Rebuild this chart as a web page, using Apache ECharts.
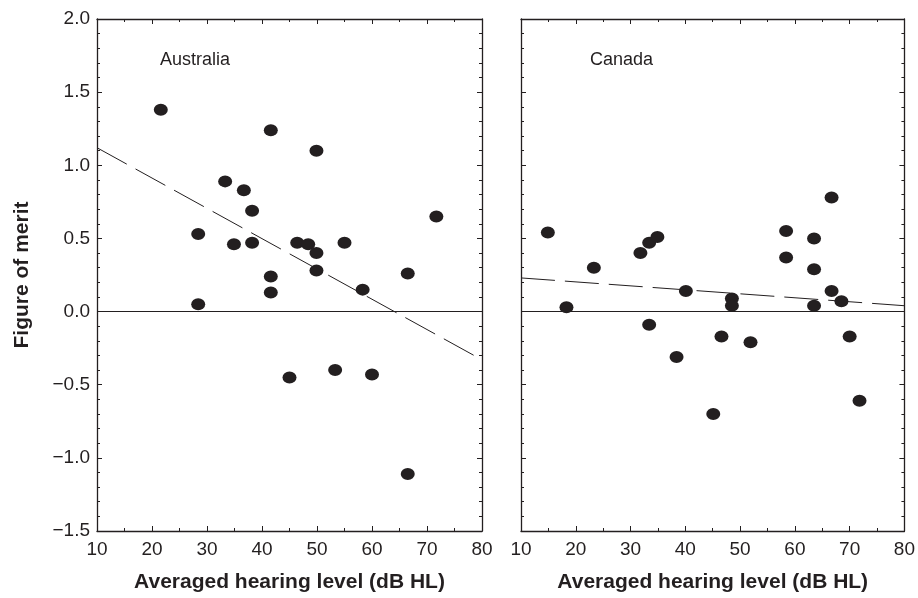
<!DOCTYPE html>
<html>
<head>
<meta charset="utf-8">
<script src="https://cdn.jsdelivr.net/npm/echarts@6/dist/echarts.min.js"></script>
<style>
html, body { margin: 0; padding: 0; background: #fff; }
#chart { width: 918px; height: 598px; }
</style>
</head>
<body>
<div id="chart"></div>
<script>
// data
var australia = [
    [21.6, 1.38], [41.6, 1.24], [49.9, 1.10], [33.3, 0.89], [36.7, 0.83],
    [38.2, 0.69], [71.7, 0.65], [28.4, 0.53], [34.9, 0.46], [38.2, 0.47],
    [46.4, 0.47], [48.4, 0.46], [55.0, 0.47], [49.9, 0.40], [49.9, 0.28],
    [41.6, 0.24], [66.5, 0.26], [41.6, 0.13], [58.3, 0.15], [28.4, 0.05],
    [45.0, -0.45], [53.3, -0.40], [60.0, -0.43], [66.5, -1.11]
];
var canada = [
    [14.9, 0.54], [18.3, 0.03], [23.3, 0.30], [31.8, 0.40], [33.4, 0.47],
    [34.9, 0.51], [33.4, -0.09], [38.4, -0.31], [40.1, 0.14], [45.1, -0.70],
    [46.6, -0.17], [48.5, 0.09], [48.5, 0.04], [51.9, -0.21], [58.4, 0.55],
    [58.4, 0.37], [63.5, 0.50], [63.5, 0.29], [63.5, 0.04], [66.7, 0.78],
    [66.7, 0.14], [68.5, 0.07], [70.0, -0.17], [71.8, -0.61]
];
// regression lines (end points)
var australiaFit = [[10, 1.12], [80, -0.33]];
var canadaFit = [[10, 0.23], [80, 0.04]];

var xTicks = [10, 20, 30, 40, 50, 60, 70, 80];
var yTicks = [-1.5, -1.0, -0.5, 0.0, 0.5, 1.0, 1.5, 2.0];
var yTickLabels = ['\u22121.5', '\u22121.0', '\u22120.5', '0.0', '0.5', '1.0', '1.5', '2.0'];
var panelNames = ['Australia', 'Canada'];
var xTitle = 'Averaged hearing level (dB HL)';
var yTitle = 'Figure of merit';

var ink = '#231f20';
var font = 'Liberation Sans, Arial, sans-serif';

function xAxisCfg(grid, pos, labels) {
    return {
        type: 'value', gridIndex: grid, position: pos,
        min: xTicks[0], max: xTicks[xTicks.length - 1], interval: 10,
        axisLine: { onZero: false, lineStyle: { color: ink, width: 1.3 } },
        axisTick: { inside: true, length: 5, lineStyle: { color: ink } },
        minorTick: { show: true, splitNumber: 2, length: 3, lineStyle: { color: ink } },
        splitLine: { show: false },
        axisLabel: { show: labels, color: ink, fontSize: 19, fontFamily: font, margin: 9,
            showMinLabel: true, showMaxLabel: true },
        name: labels ? xTitle : '',
        nameLocation: 'middle', nameGap: 41,
        nameTextStyle: { color: ink, fontSize: 21, fontWeight: 'bold', fontFamily: font }
    };
}

function yAxisCfg(grid, pos, labels, withName) {
    return {
        type: 'value', gridIndex: grid, position: pos,
        min: yTicks[0], max: yTicks[yTicks.length - 1], interval: 0.5,
        axisLine: { onZero: false, lineStyle: { color: ink, width: 1.3 } },
        axisTick: { inside: true, length: 5, lineStyle: { color: ink } },
        minorTick: { show: true, splitNumber: 5, length: 3, lineStyle: { color: ink } },
        splitLine: { show: false },
        axisLabel: {
            show: labels, color: ink, fontSize: 19, fontFamily: font, margin: 7,
            formatter: function (v) {
                var i = yTicks.indexOf(Math.round(v * 10) / 10);
                return i >= 0 ? yTickLabels[i] : '';
            }
        },
        name: withName ? yTitle : '',
        nameLocation: 'middle', nameGap: 64, nameRotate: 90,
        nameTextStyle: { color: ink, fontSize: 21, fontWeight: 'bold', fontFamily: font }
    };
}

function scatterSeries(i, data) {
    return {
        type: 'scatter', xAxisIndex: i * 2, yAxisIndex: i * 2, data: data,
        symbol: 'circle', symbolSize: [14, 12],
        itemStyle: { color: ink, opacity: 1 },
        z: 5,
        markLine: {
            silent: true, symbol: 'none', label: { show: false },
            lineStyle: { color: ink, type: 'solid', width: 1.2 },
            data: [{ yAxis: 0 }]
        }
    };
}

function fitSeries(i, data) {
    return {
        type: 'line', xAxisIndex: i * 2, yAxisIndex: i * 2, data: data,
        symbol: 'none',
        lineStyle: { color: ink, width: 1, type: [34, 10] },
        z: 3
    };
}

var chart = echarts.init(document.getElementById('chart'), null, { renderer: 'canvas' });
chart.setOption({
    animation: false,
    backgroundColor: '#fff',
    title: [
        { text: panelNames[0], left: 155, top: 46,
          textStyle: { color: ink, fontSize: 18, fontWeight: 'normal', fontFamily: font } },
        { text: panelNames[1], left: 585, top: 46,
          textStyle: { color: ink, fontSize: 18, fontWeight: 'normal', fontFamily: font } }
    ],
    grid: [
        { left: 97, top: 19, width: 385, bottom: 67, containLabel: false },
        { left: 521, top: 19, width: 385, bottom: 67, containLabel: false }
    ],
    xAxis: [
        xAxisCfg(0, 'bottom', true), xAxisCfg(0, 'top', false),
        xAxisCfg(1, 'bottom', true), xAxisCfg(1, 'top', false)
    ],
    yAxis: [
        yAxisCfg(0, 'left', true, true), yAxisCfg(0, 'right', false, false),
        yAxisCfg(1, 'left', false, false), yAxisCfg(1, 'right', false, false)
    ],
    series: [
        scatterSeries(0, australia), fitSeries(0, australiaFit),
        scatterSeries(1, canada), fitSeries(1, canadaFit)
    ]
});
</script>
</body>
</html>
